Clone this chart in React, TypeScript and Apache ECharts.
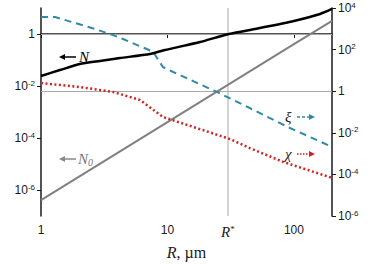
import React, { useEffect, useRef } from "react";
import * as echarts from "echarts";

// R (µm) positions and values
const rN = [1, 1.41, 2.03, 2.93, 4.21, 7.27, 9.55, 18.1, 30.6, 53.9, 100, 161, 200];
const nValues = [0.0243, 0.041, 0.07, 0.092, 0.119, 0.17, 0.243, 0.49, 1.0, 1.7, 3.16, 5.9, 9.2];
const rN0 = [1, 10, 100, 200];
const n0Values = [4.1e-7, 4.1e-4, 0.41, 3.2];
const rXi = [1, 1.29, 1.86, 2.67, 3.71, 4.45, 7.69, 9.2, 11.1, 24.6, 43.3, 93, 200];
const xiValues = [3690, 3690, 1900, 980, 500, 322, 79, 14.6, 8.4, 0.92, 0.17, 0.017, 0.0021];
const rChi = [1, 1.41, 2.03, 3.71, 6.06, 9.2, 13.7, 19.0, 31.2, 44.8, 82, 200];
const chiValues = [2.48, 1.99, 1.59, 0.92, 0.38, 0.058, 0.026, 0.0136, 0.005, 0.00185, 4.0e-4, 6.8e-5];
const rStar = 30;
const xRange = [1, 200];
const leftRange = [1e-7, 10];
const rightRange = [1e-6, 1e4];
const xTicks = [1, 10, 100];
const leftTicks = [1e-6, 1e-4, 1e-2, 1];
const rightTicks = [1e-6, 1e-4, 1e-2, 1, 1e2, 1e4];

const lg = (v: number) => Math.log10(v);
const pairs = (xs: number[], ys: number[]) => xs.map((x, i) => [lg(x), lg(ys[i])]);

const powLabel = (v: number) => {
  const e = Math.round(v);
  if (e === 0) return "1";
  return `{b|10}{sup|${e}}`;
};

const richLabel = {
  b: { fontSize: 12, lineHeight: 14, fontFamily: "Liberation Sans", color: "#1a1a1a" },
  sup: { fontSize: 8, lineHeight: 14, verticalAlign: "top", fontFamily: "Liberation Sans", color: "#1a1a1a" },
  ri: { fontSize: 15, fontStyle: "italic", fontFamily: "Liberation Serif", color: "#1a1a1a", lineHeight: 16 },
  rs: { fontSize: 9, fontFamily: "Liberation Serif", color: "#1a1a1a", verticalAlign: "top", lineHeight: 16 },
};

export default function App() {
  const ref = useRef<HTMLDivElement>(null);
  useEffect(() => {
    if (!ref.current) return;
    const chart = echarts.init(ref.current, undefined, { renderer: "svg" });
    const axisLine = { show: true, lineStyle: { color: "#1a1a1a", width: 1.5 } };
    const option: any = {
      animation: false,
      backgroundColor: "#fff",
      grid: { left: 41, right: 42, top: 8, bottom: 48, containLabel: false, outerBoundsMode: "none" },
      xAxis: {
        type: "value",
        min: lg(xRange[0]),
        max: lg(xRange[1]),
        axisLine,
        splitLine: { show: false },
        axisTick: { show: true, length: 4, lineStyle: { color: "#1a1a1a" }, customValues: xTicks.map(lg) },
        axisLabel: {
          customValues: [...xTicks.map(lg), lg(rStar)],
          margin: 8,
          fontSize: 12,
          fontFamily: "Liberation Sans",
          color: "#1a1a1a",
          rich: richLabel,
          formatter: (v: number) => {
            if (Math.abs(v - lg(rStar)) < 1e-6) return "{ri|R}{rs|*}";
            return String(Math.round(Math.pow(10, v)));
          },
        },
        name: "{i|R}{n|, µm}",
        nameLocation: "middle",
        nameGap: 24,
        nameTextStyle: {
          rich: {
            i: { fontSize: 16, fontStyle: "italic", fontFamily: "Liberation Serif", color: "#1a1a1a" },
            n: { fontSize: 16, fontFamily: "Liberation Serif", color: "#1a1a1a" },
          },
        },
      },
      yAxis: [
        {
          type: "value",
          position: "left",
          min: lg(leftRange[0]),
          max: lg(leftRange[1]),
          axisLine,
          splitLine: { show: false },
          axisTick: { show: true, length: 4, lineStyle: { color: "#1a1a1a" }, customValues: leftTicks.map(lg) },
          axisLabel: {
            customValues: leftTicks.map(lg),
            margin: 6,
            fontSize: 12,
            fontFamily: "Liberation Sans",
            color: "#1a1a1a",
            rich: richLabel,
            formatter: powLabel,
          },
        },
        {
          type: "value",
          position: "right",
          min: lg(rightRange[0]),
          max: lg(rightRange[1]),
          axisLine,
          splitLine: { show: false },
          axisTick: { show: true, length: 4, lineStyle: { color: "#1a1a1a" }, customValues: rightTicks.map(lg) },
          axisLabel: {
            customValues: rightTicks.map(lg),
            margin: 6,
            fontSize: 12,
            fontFamily: "Liberation Sans",
            color: "#1a1a1a",
            rich: richLabel,
            formatter: powLabel,
          },
        },
      ],
      series: [
        {
          name: "N0",
          type: "line",
          yAxisIndex: 0,
          data: pairs(rN0, n0Values),
          showSymbol: false,
          lineStyle: { color: "#808080", width: 2 },
          z: 3,
        },
        {
          name: "N",
          type: "line",
          yAxisIndex: 0,
          data: pairs(rN, nValues),
          showSymbol: false,
          smooth: 0.2,
          lineStyle: { color: "#000", width: 2.5 },
          z: 4,
          markLine: {
            silent: true,
            symbol: ["none", "none"],
            label: { show: false },
            z: 1,
            data: [
              { yAxis: 0, lineStyle: { color: "#a8a8a8", width: 1, type: "solid", opacity: 1 } },
              { xAxis: lg(rStar), lineStyle: { color: "#d4d4d4", width: 2, type: "solid", opacity: 1 } },
            ],
          },
        },
        {
          name: "xi",
          type: "line",
          yAxisIndex: 1,
          data: pairs(rXi, xiValues),
          showSymbol: false,
          lineStyle: { color: "#2f8aa5", width: 2, type: [7, 5] },
          z: 3,
          markLine: {
            silent: true,
            symbol: ["none", "none"],
            label: { show: false },
            z: 1,
            data: [{ yAxis: 0, lineStyle: { color: "#a8a8a8", width: 1, type: "solid", opacity: 1 } }],
          },
        },
        {
          name: "chi",
          type: "line",
          yAxisIndex: 1,
          data: pairs(rChi, chiValues),
          showSymbol: false,
          lineStyle: { color: "#d42222", width: 2.5, type: [2, 2.5] },
          z: 3,
        },
      ],
      graphic: [
        // N annotation
        { type: "line", shape: { x1: 62, y1: 57, x2: 76, y2: 57 }, style: { stroke: "#000", lineWidth: 1.5 } },
        { type: "polygon", shape: { points: [[59, 57], [65, 54], [65, 60]] }, style: { fill: "#000" } },
        {
          type: "text", x: 79, y: 57,
          style: { text: "N", font: "italic 15px 'Liberation Serif'", fill: "#000", verticalAlign: "middle" },
        },
        // N0 annotation
        { type: "line", shape: { x1: 62, y1: 159, x2: 76, y2: 159 }, style: { stroke: "#888", lineWidth: 1.5 } },
        { type: "polygon", shape: { points: [[59, 159], [65, 156], [65, 162]] }, style: { fill: "#888" } },
        {
          type: "text", x: 78, y: 159,
          style: {
            text: "{a|N}{s|0}",
            verticalAlign: "middle",
            rich: {
              a: { font: "italic 15px 'Liberation Serif'", fill: "#777", lineHeight: 16, verticalAlign: "top" },
              s: { font: "italic 10px 'Liberation Serif'", fill: "#777", lineHeight: 16, verticalAlign: "bottom" },
            },
          },
        },
        // xi annotation
        {
          type: "text", x: 285, y: 117,
          style: { text: "ξ", font: "italic 15px 'Liberation Serif'", fill: "#222", verticalAlign: "middle" },
        },
        { type: "line", shape: { x1: 297, y1: 117, x2: 311, y2: 117 }, style: { stroke: "#2f8aa5", lineWidth: 1.5, lineDash: [3, 2] } },
        { type: "polygon", shape: { points: [[315, 117], [309, 114], [309, 120]] }, style: { fill: "#2f8aa5" } },
        // chi annotation
        {
          type: "text", x: 285, y: 154,
          style: { text: "χ", font: "italic 15px 'Liberation Serif'", fill: "#222", verticalAlign: "middle" },
        },
        { type: "line", shape: { x1: 297, y1: 154, x2: 311, y2: 154 }, style: { stroke: "#d42222", lineWidth: 1.5, lineDash: [1.5, 1.5] } },
        { type: "polygon", shape: { points: [[315, 154], [309, 151], [309, 157]] }, style: { fill: "#d42222" } },
      ],
    };
    chart.setOption(option);
    return () => chart.dispose();
  }, []);
  return (
    <div
      ref={ref}
      style={{ position: "fixed", left: 0, top: 0, width: 374, height: 264, background: "#fff" }}
    />
  );
}
